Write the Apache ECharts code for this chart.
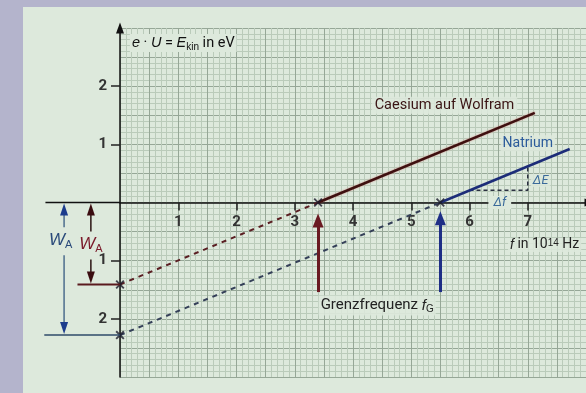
<!DOCTYPE html>
<html><head><meta charset="utf-8">
<script src="https://cdn.jsdelivr.net/npm/echarts@6/dist/echarts.min.js"></script>
<style>
html,body{margin:0;padding:0;width:586px;height:393px;background:#b4b4cc;overflow:hidden}
#panel{position:absolute;left:23px;top:7px;width:563px;height:386px;background:#dde9dc}
#chart{width:563px;height:386px}
</style></head><body>
<div id="panel"><div id="chart"></div></div>
<script>
// ---- data (frequency in 10^14 Hz, energy in eV) ----
const xTickValues = [1, 2, 3, 4, 5, 6, 7];
const yTickValues = [-2, -1, 1, 2];
const caesiumSolid = [[3.4, 0], [7.12, 1.54]];
const caesiumDashed = [[0, -1.41], [3.4, 0]];
const natriumSolid = [[5.5, 0], [7.72, 0.92]];
const natriumDashed = [[0, -2.28], [5.5, 0]];
const deltaTriangle = [[6.0, 0.21], [7.0, 0.21], [7.0, 0.62]];
const crossPoints = [[0, -1.41], [3.4, 0], [0, -2.28], [5.5, 0]];
const limitFreqs = [3.4, 5.5];
const workFunctions = [1.41, 2.28];

const FONT = 'Roboto, "Open Sans", sans-serif';
const chart = echarts.init(document.getElementById('chart'));
const xPath = 'path://M0,1.5L1.5,0L5,3.5L8.5,0L10,1.5L6.5,5L10,8.5L8.5,10L5,6.5L1.5,10L0,8.5L3.5,5Z';

const option = {
  animation: false,
  grid: { left: 97, right: 0, top: 21, bottom: 16, containLabel: false, outerBoundsMode: 'none' },
  xAxis: [
    { type: 'value', min: 0, max: 8, interval: 1, position: 'bottom', offset: 0,
      axisLine: { show: true, onZero: false, lineStyle: { color: '#111', width: 1.5 }, symbol: ['none', 'triangle'], symbolSize: [8, 11], symbolOffset: [0, 4] },
      axisTick: { show: true, length: 8, customValues: xTickValues, lineStyle: { color: '#222', width: 1.5 } },
      axisLabel: { margin: 12, color: '#333', fontSize: 15, fontWeight: 'bold', fontFamily: FONT, customValues: xTickValues },
      splitLine: { show: false } },
    { type: 'value', min: 0, max: 8, interval: 0.5, axisLine: { show: false }, axisTick: { show: false }, axisLabel: { show: false },
      splitLine: { show: true, lineStyle: { color: '#96a797', width: 1 } },
      minorTick: { show: false, splitNumber: 5 },
      minorSplitLine: { show: true, lineStyle: { color: '#bacbba', width: 1 } } }
  ],
  yAxis: [
    { type: 'value', min: -3, max: 3, interval: 1, position: 'left',
      axisLine: { show: true, onZero: false, lineStyle: { color: '#111', width: 1.5 }, symbol: ['none', 'triangle'], symbolSize: [8, 11] },
      axisTick: { show: true, length: 9, customValues: yTickValues, lineStyle: { color: '#222', width: 1.5 } },
      axisLabel: { margin: 13, color: '#333', fontSize: 15, fontWeight: 'bold', fontFamily: FONT, customValues: yTickValues,
        formatter: v => String(Math.abs(v)) },
      splitLine: { show: false } },
    { type: 'value', min: -3, max: 3, interval: 0.5, axisLine: { show: false }, axisTick: { show: false }, axisLabel: { show: false },
      splitLine: { show: true, lineStyle: { color: '#96a797', width: 1 } },
      minorTick: { show: false, splitNumber: 5 },
      minorSplitLine: { show: true, lineStyle: { color: '#bacbba', width: 1 } } }
  ],
  series: [
    { type: 'line', data: caesiumDashed, symbol: 'none', clip: false, z: 3,
      lineStyle: { color: '#5a1e22', width: 2, type: [5, 5] } },
    { type: 'line', data: natriumDashed, symbol: 'none', clip: false, z: 3,
      lineStyle: { color: '#343f58', width: 2, type: [5, 5] } },
    { type: 'line', data: deltaTriangle, symbol: 'none', clip: false, z: 3,
      lineStyle: { color: '#2a3040', width: 1.5, type: [4, 3] } },
    { type: 'line', data: caesiumSolid, symbol: 'none', clip: false, z: 4,
      lineStyle: { color: '#3e1010', width: 2.5, shadowColor: 'rgba(200,70,70,0.5)', shadowBlur: 2 } },
    { type: 'line', data: natriumSolid, symbol: 'none', clip: false, z: 4,
      lineStyle: { color: '#1c2c78', width: 2.5 } },
    { type: 'line', data: [], symbol: 'none', z: 6,
      markLine: { silent: true, symbol: ['none', 'triangle'], symbolSize: [11, 14], label: { show: false },
        data: [
          [{ coord: [limitFreqs[0], -1.54], lineStyle: { color: '#6a1a22', width: 3, type: 'solid' }, itemStyle: { color: '#4a0c12' } }, { coord: [limitFreqs[0], -0.31] }],
          [{ coord: [limitFreqs[1], -1.54], lineStyle: { color: '#1e2e86', width: 3, type: 'solid' }, itemStyle: { color: '#1a2878' } }, { coord: [limitFreqs[1], -0.27] }]
        ] } },
    { type: 'scatter', data: crossPoints, symbol: xPath, symbolSize: 9, clip: false, z: 7,
      itemStyle: { color: '#1a1a2a' } }
  ]
};
chart.setOption(option);

const P = (x, y) => chart.convertToPixel({ xAxisIndex: 0, yAxisIndex: 0 }, [x, y]);
// place the x axis on the zero line of the energy axis
chart.setOption({ xAxis: [{ offset: P(0, 0)[1] - P(0, -3)[1] }, {}] });

const BG = '#dde9dc';
const BGA = 'rgba(221,233,220,0.85)';
function txt(pos, text, style) {
  return { type: 'text', x: pos[0], y: pos[1], z: 50,
    style: Object.assign({ text, fill: '#222', fontSize: 14, fontFamily: FONT, align: 'center', verticalAlign: 'middle' }, style) };
}
function line(a, b, color, width) {
  return { type: 'line', z: 40, shape: { x1: a[0], y1: a[1], x2: b[0], y2: b[1] }, style: { stroke: color, lineWidth: width } };
}
function tri(tip, dir, color) { // dir: -1 pointing up, +1 pointing down
  const h = 12, w = 4;
  return { type: 'polygon', z: 41, shape: { points: [[tip[0], tip[1]], [tip[0] - w, tip[1] - dir * h], [tip[0] + w, tip[1] - dir * h]] }, style: { fill: color } };
}
const o = P(0, 0);
const cs = P(0, -workFunctions[0]);
const na = P(0, -workFunctions[1]);
const redLbl = P(-0.5, -0.72);
const blueLbl = P(-1.02, -0.65);
const xRed = redLbl[0];
const xBlue = P(-0.96, 0)[0];
const sub = { fontSize: 10, padding: [8, 0, 0, 0], verticalAlign: 'top' };
const sup = { fontSize: 10, padding: [0, 0, 0, 0], verticalAlign: 'top' };

const graphics = [
  line([P(-1.28, 0)[0], o[1]], o, '#111', 1.5),
  line([P(-0.73, 0)[0], cs[1]], cs, '#5a1a1e', 2),
  line([P(-1.3, 0)[0], na[1]], na, '#2e4a6a', 1.5),
  line([xRed, o[1] + 10], [xRed, redLbl[1] - 13], '#2a1212', 1.5),
  line([xRed, redLbl[1] + 15], [xRed, cs[1] - 10], '#2a1212', 1.5),
  tri([xRed, o[1] + 1], -1, '#3a0c10'),
  tri([xRed, cs[1] - 1], 1, '#3a0c10'),
  line([xBlue, o[1] + 10], [xBlue, blueLbl[1] - 13], '#4d6d8d', 1.5),
  line([xBlue, blueLbl[1] + 15], [xBlue, na[1] - 10], '#4d6d8d', 1.5),
  tri([xBlue, o[1] + 1], -1, '#1c3c8c'),
  tri([xBlue, na[1] - 1], 1, '#1c3c8c'),
  txt(redLbl, '{w|W}{s|A}', { fill: '#7a1a2a',
    rich: { w: { fontSize: 17, fontStyle: 'italic', fill: '#7a1a2a' }, s: Object.assign({ fill: '#7a1a2a' }, sub, { fontSize: 11, padding: [10, 0, 0, 0] }) } }),
  txt(blueLbl, '{w|W}{s|A}', { fill: '#2a4a7a',
    rich: { w: { fontSize: 17, fontStyle: 'italic', fill: '#2a4a7a' }, s: Object.assign({ fill: '#2a4a7a' }, sub, { fontSize: 11, padding: [10, 0, 0, 0] }) } }),
  txt(P(0.17, 2.74), '{i|e} · {i|U} = {i|E}{s|kin} in eV', { align: 'left', fill: '#111', fontSize: 14.5, backgroundColor: BG, padding: [0, 2, 0, 2],
    rich: { i: { fontStyle: 'italic', fontSize: 14.5 }, s: sub } }),
  txt(P(5.57, 1.67), 'Caesium auf Wolfram', { fill: '#3a1414', fontSize: 14.5, backgroundColor: BGA, padding: [1, 3] }),
  txt(P(7.0, 1.02), 'Natrium', { fill: '#2a5a9a', fontSize: 14, backgroundColor: BGA, padding: [1, 2] }),
  txt(P(7.22, 0.38), 'ΔE', { fill: '#3a6a9a', fontSize: 12.5, fontStyle: 'italic', backgroundColor: BGA, padding: [0, 2] }),
  txt(P(6.52, 0), 'Δf', { fill: '#3a6a9a', fontSize: 12.5, fontStyle: 'italic', backgroundColor: BG, padding: [0, 5] }),
  txt(P(7.29, -0.73), '{i|f} in 10{p|14} Hz', { fill: '#222', backgroundColor: BGA, padding: [0, 2],
    rich: { i: { fontStyle: 'italic', fontSize: 14 }, p: sup } }),
  txt(P(3.41, -1.77), 'Grenzfrequenz {i|f}{s|G}', { align: 'left', fill: '#222', fontSize: 15, backgroundColor: BGA, padding: [1, 2],
    rich: { i: { fontStyle: 'italic', fontSize: 15 }, s: sub } })
];
chart.setOption({ graphic: graphics });
</script>
</body></html>
